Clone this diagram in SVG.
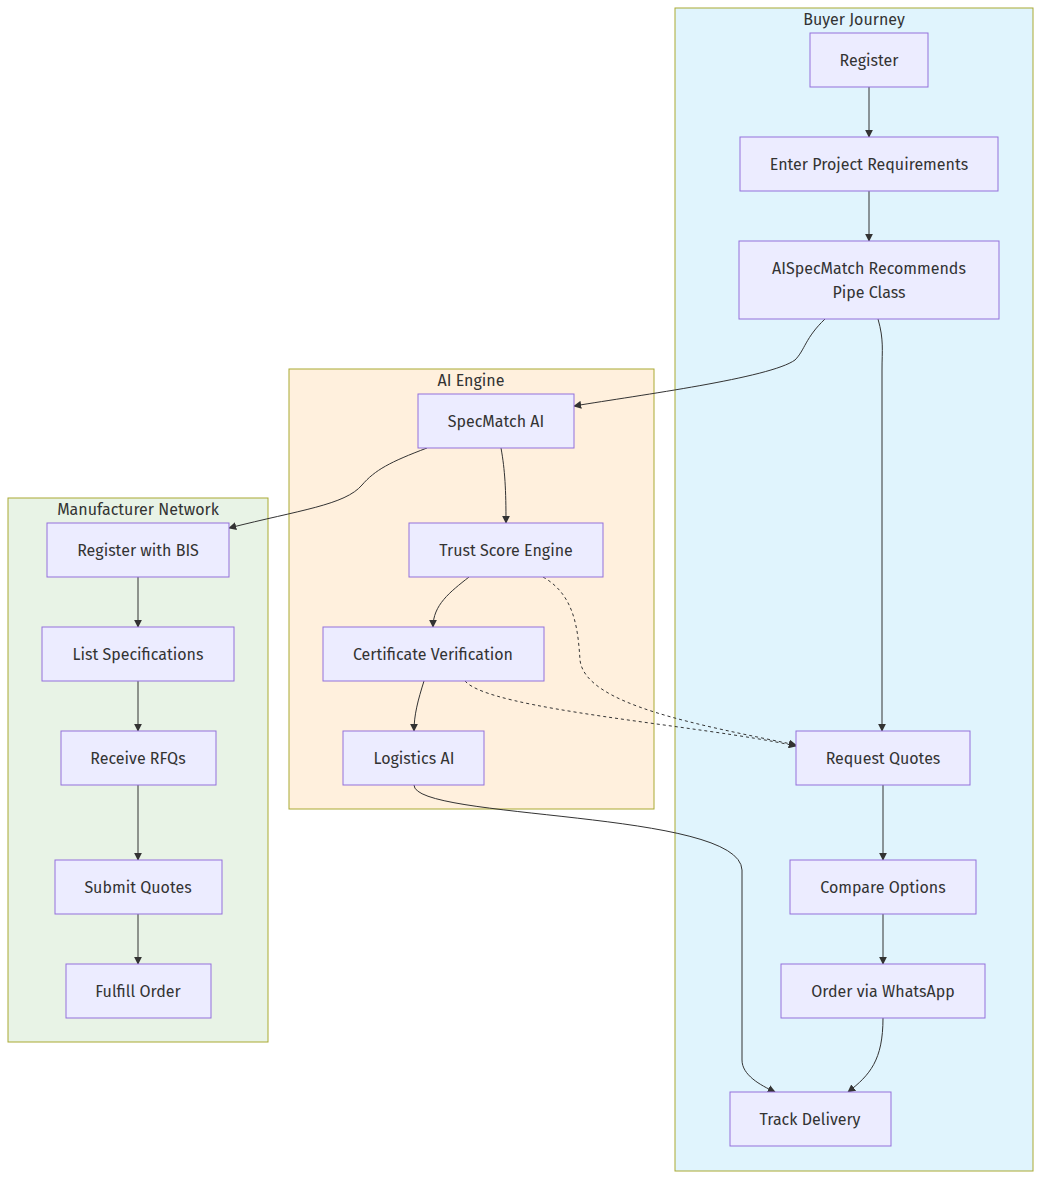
<svg xmlns="http://www.w3.org/2000/svg" width="1042" height="1180" viewBox="0 0 1042 1180">
<style>
text{font-family:"Fira Sans","Noto Sans","Open Sans",sans-serif;font-size:16px;fill:#333;text-anchor:middle;dominant-baseline:central}
.n{fill:#ECECFF;stroke:#9370DB;stroke-width:1}
.e{fill:none;stroke:#333;stroke-width:1}
.d{stroke-dasharray:3 3}
</style>
<defs><marker id="a" viewBox="0 0 10 10" refX="9" refY="5" markerWidth="8" markerHeight="8" orient="auto"><path d="M0,0L10,5L0,10z" fill="#333"/></marker></defs>
<rect width="1042" height="1180" fill="#fff"/>
<g id="cluster-buyer"><rect x="675" y="8" width="358" height="1163" fill="#e0f4fd" stroke="#aaaa33"/><text x="854" y="19">Buyer Journey</text></g>
<g id="cluster-ai"><rect x="289" y="369" width="365" height="440" fill="#fff0dd" stroke="#aaaa33"/><text x="471" y="380">AI Engine</text></g>
<g id="cluster-mfg"><rect x="8" y="498" width="260" height="544" fill="#e8f3e6" stroke="#aaaa33"/><text x="138" y="509">Manufacturer Network</text></g>
<g id="edges">
<path class="e" marker-end="url(#a)" d="M869,87L869,137"/>
<path class="e" marker-end="url(#a)" d="M869,191L869,241"/>
<path class="e" marker-end="url(#a)" d="M825,319C805,338 805,350 795,360C770,378 640,395 574,406"/>
<path class="e" marker-end="url(#a)" d="M878,319C884,340 882,350 882,370L882,731"/>
<path class="e" marker-end="url(#a)" d="M427,448C390,462 375,470 362,485C345,505 300,510 229,528"/>
<path class="e" marker-end="url(#a)" d="M501,448C505,470 506,490 506,523"/>
<path class="e" marker-end="url(#a)" d="M469,577C450,592 433,605 433,627"/>
<path class="e d" marker-end="url(#a)" d="M543,577C575,595 578,630 580,660C585,705 700,725 796,745"/>
<path class="e" marker-end="url(#a)" d="M424,681C418,700 414,715 414,731"/>
<path class="e d" marker-end="url(#a)" d="M465,681C490,710 700,725 796,746"/>
<path class="e" marker-end="url(#a)" d="M414,785C414,820 740,810 742,870L742,1060C742,1075 760,1085 775,1092"/>
<path class="e" marker-end="url(#a)" d="M883,785L883,860"/>
<path class="e" marker-end="url(#a)" d="M883,914L883,964"/>
<path class="e" marker-end="url(#a)" d="M883,1018C883,1060 870,1075 848,1092"/>
<path class="e" marker-end="url(#a)" d="M138,577L138,627"/>
<path class="e" marker-end="url(#a)" d="M138,681L138,731"/>
<path class="e" marker-end="url(#a)" d="M138,785L138,860"/>
<path class="e" marker-end="url(#a)" d="M138,914L138,964"/>
</g>
<g id="register"><rect class="n" x="810" y="33" width="118" height="54"/><text x="869" y="60">Register</text></g>
<g id="enter"><rect class="n" x="740" y="137" width="258" height="54"/><text x="869" y="164">Enter Project Requirements</text></g>
<g id="aispec"><rect class="n" x="739" y="241" width="260" height="78"/><text x="869" y="268">AISpecMatch Recommends</text><text x="869" y="292">Pipe Class</text></g>
<g id="specmatch"><rect class="n" x="418" y="394" width="156" height="54"/><text x="496" y="421">SpecMatch AI</text></g>
<g id="trust"><rect class="n" x="409" y="523" width="194" height="54"/><text x="506" y="550">Trust Score Engine</text></g>
<g id="cert"><rect class="n" x="323" y="627" width="221" height="54"/><text x="433" y="654">Certificate Verification</text></g>
<g id="logistics"><rect class="n" x="343" y="731" width="141" height="54"/><text x="414" y="758">Logistics AI</text></g>
<g id="regbis"><rect class="n" x="47" y="523" width="182" height="54"/><text x="138" y="550">Register with BIS</text></g>
<g id="listspec"><rect class="n" x="42" y="627" width="192" height="54"/><text x="138" y="654">List Specifications</text></g>
<g id="rfq"><rect class="n" x="61" y="731" width="155" height="54"/><text x="138" y="758">Receive RFQs</text></g>
<g id="submit"><rect class="n" x="55" y="860" width="167" height="54"/><text x="138" y="887">Submit Quotes</text></g>
<g id="fulfill"><rect class="n" x="66" y="964" width="145" height="54"/><text x="138" y="991">Fulfill Order</text></g>
<g id="reqquotes"><rect class="n" x="796" y="731" width="174" height="54"/><text x="883" y="758">Request Quotes</text></g>
<g id="compare"><rect class="n" x="790" y="860" width="186" height="54"/><text x="883" y="887">Compare Options</text></g>
<g id="order"><rect class="n" x="781" y="964" width="204" height="54"/><text x="883" y="991">Order via WhatsApp</text></g>
<g id="track"><rect class="n" x="730" y="1092" width="161" height="54"/><text x="810" y="1119">Track Delivery</text></g>
</svg>
